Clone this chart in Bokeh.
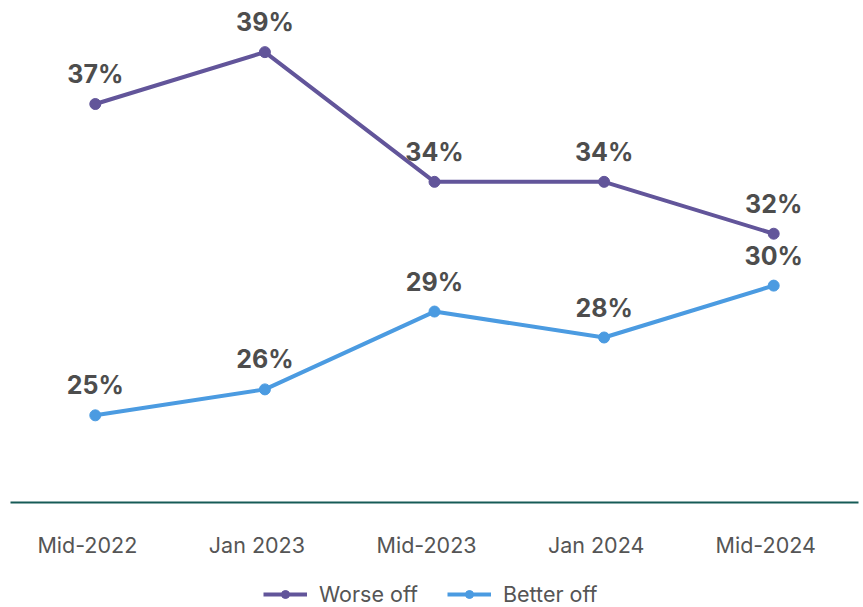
from bokeh.plotting import figure
from bokeh.layouts import column
from bokeh.models import (Range1d, Legend, LegendItem, ColumnDataSource,
                          LinearAxis, FixedTicker)
from bokeh.core.properties import value
from bokeh.embed import file_html
from bokeh.resources import INLINE

periods = ["Mid-2022", "Jan 2023", "Mid-2023", "Jan 2024", "Mid-2024"]
worse_off = [37, 39, 34, 34, 32]
better_off = [25, 26, 29, 28, 30]
series_names = ["Worse off", "Better off"]

PURPLE = "#62559a"
BLUE = "#4b9be1"
LABEL = "#4d4d4d"
FONT = "Inter"
LABEL_SHIFT = 0.047  # tick labels sit slightly left of the points in the reference

n = len(periods)
xs = [i + 0.5 for i in range(n)]

p = figure(x_range=Range1d(0, n), y_range=Range1d(21.64, 40.99),
           width=863, height=560,
           output_backend="svg", toolbar_location=None,
           x_axis_location=None, y_axis_location=None,
           min_border_left=10, min_border_right=5, min_border_top=0, min_border_bottom=53,
           outline_line_color=None, background_fill_color="white")
p.grid.visible = False
p.extra_x_ranges = {"axis": Range1d(LABEL_SHIFT, n + LABEL_SHIFT)}

src_w = ColumnDataSource(dict(x=xs, y=worse_off, t=[f"{v}%" for v in worse_off]))
src_b = ColumnDataSource(dict(x=xs, y=better_off, t=[f"{v}%" for v in better_off]))

p.line("x", "y", source=src_w, line_color=PURPLE, line_width=4)
p.scatter("x", "y", source=src_w, size=11, fill_color=PURPLE, line_color=PURPLE)
p.line("x", "y", source=src_b, line_color=BLUE, line_width=4)
p.scatter("x", "y", source=src_b, size=11, fill_color=BLUE, line_color=BLUE)

for s in (src_w, src_b):
    p.text("x", "y", text="t", source=s, text_font=value(FONT), text_font_style="bold",
           text_font_size="25px", text_color=LABEL, text_align="center",
           text_baseline="alphabetic", y_offset=-30)

ax = LinearAxis(x_range_name="axis", ticker=FixedTicker(ticks=xs),
                major_label_overrides={t: lab for t, lab in zip(xs, periods)})
ax.axis_line_color = "#165b57"
ax.axis_line_width = 2
ax.major_tick_line_color = None
ax.minor_tick_line_color = None
ax.major_label_text_font = FONT
ax.major_label_text_font_size = "21.5px"
ax.major_label_text_color = "#555555"
ax.major_label_standoff = 23
p.add_layout(ax, "below")

# legend strip below the chart
p2 = figure(x_range=Range1d(0, 1), y_range=Range1d(0, 1), width=863, height=47,
            output_backend="svg", toolbar_location=None,
            x_axis_location=None, y_axis_location=None,
            min_border_left=0, min_border_right=0, min_border_top=0, min_border_bottom=0,
            outline_line_color=None)
p2.grid.visible = False
items = []
for name, col in zip(series_names, (PURPLE, BLUE)):
    r1 = p2.line(x=[-5, -4], y=[-5, -4], line_color=col, line_width=4)
    r2 = p2.scatter(x=[-5], y=[-5], size=11, fill_color=col, line_color=col)
    items.append(LegendItem(label=name, renderers=[r1, r2]))

legend = Legend(items=items, orientation="horizontal", location=(253, 0),
                glyph_width=44, glyph_height=20, label_height=20, label_standoff=12, spacing=29,
                label_text_font=FONT, label_text_font_size="21.5px",
                label_text_color="#555555", border_line_color=None,
                background_fill_alpha=0, margin=0, padding=0)
p2.add_layout(legend, "center")

layout = column(p, p2, spacing=0)
open("out.html", "w").write(file_html(layout, INLINE))
